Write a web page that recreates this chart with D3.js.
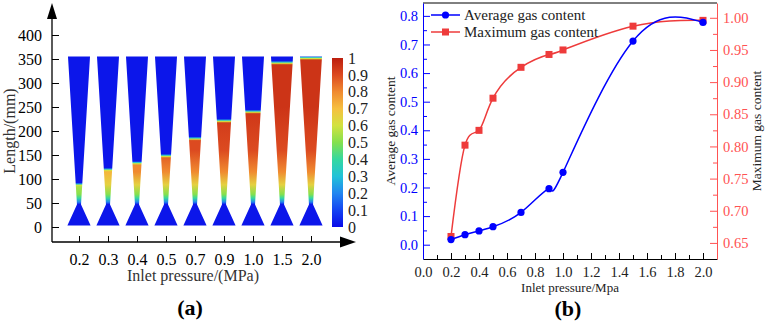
<!DOCTYPE html>
<html lang="en">
<head>
<meta charset="UTF-8">
<title>Gas content vs inlet pressure</title>
<script src="https://cdn.jsdelivr.net/npm/d3@7/dist/d3.min.js"></script>
<style>
  body { margin: 0; background: #fff; }
  svg text { font-family: "Liberation Serif", "Times New Roman", serif; }
</style>
</head>
<body>
<svg width="765" height="323"></svg>
<script>
// ---- panel (a) data: contour snapshots per inlet pressure
let pressureLabels = ['0.2', '0.3', '0.4', '0.5', '0.7', '0.9', '1.0', '1.5', '2.0'];
let interfaceLevel = [88, 119, 133, 148, 184, 221, 240, 342, 352];   // mm, top of gas column
let gasTop = [0.55, 0.72, 0.8, 0.86, 0.9, 0.93, 0.94, 0.96, 0.97];    // max fraction in column
let profileMm = [47, 52, 60, 68, 88, 115, 160, 250];                  // gas fraction vs height
let profileVal = [0.02, 0.2, 0.4, 0.5, 0.65, 0.8, 0.9, 0.95];
let lengthTicks = [0, 50, 100, 150, 200, 250, 300, 350, 400];
let cbTicks = [0, 0.1, 0.2, 0.3, 0.4, 0.5, 0.6, 0.7, 0.8, 0.9, 1];
let cbColors = ['#0a0ae8', '#1444f2', '#2286f0', '#22c2d8', '#34d8a0', '#84e04e',
                '#d2e240', '#f6c040', '#f08a30', '#dc4a20', '#bc1e0e'];

// ---- panel (b) data
let pressure = [0.2, 0.3, 0.4, 0.5, 0.7, 0.9, 1.0, 1.5, 2.0];
let avgGas = [0.018, 0.035, 0.048, 0.063, 0.113, 0.196, 0.253, 0.712, 0.777];
let maxGas = [0.660, 0.802, 0.825, 0.875, 0.923, 0.943, 0.950, 0.987, 0.996];
let xTicks = [0, 0.2, 0.4, 0.6, 0.8, 1.0, 1.2, 1.4, 1.6, 1.8, 2.0];
let avgTicks = [0, 0.1, 0.2, 0.3, 0.4, 0.5, 0.6, 0.7, 0.8];
let maxTicks = [0.65, 0.70, 0.75, 0.80, 0.85, 0.90, 0.95, 1.00];

let svg = d3.select('svg');
let defs = svg.append('defs');
let blue = '#0000ff', red = '#ee3b3b', redAxis = '#ff5252';

// ================= panel (a) =================
let ga = svg.append('g');
let xa = d3.scalePoint().domain(pressureLabels).range([79, 311]);
let ya = d3.scaleLinear().domain([0, 400]).range([227, 35]);
let cmap = d3.scaleLinear().domain(cbTicks).range(cbColors);
let prof = d3.scaleLinear().domain(profileMm).range(profileVal).clamp(true);
let step = xa.step();

// nozzle outline: [offset in steps, mm]
let outline = [[-0.4, 3], [-0.07, 47], [-0.38, 355], [0.38, 355], [0.07, 47], [0.4, 3]];

pressureLabels.forEach(function (p, i) {
    let lvl = interfaceLevel[i], top = gasTop[i];
    let stops = [[0, 0.02]];
    profileMm.forEach(function (m) {
        if (m < lvl - 4) stops.push([m, Math.min(prof(m), top)]);
    });
    stops.push([lvl - 4, Math.min(prof(lvl - 4), top)]);
    stops.push([lvl - 1, 0.6]);
    stops.push([lvl + 1.5, 0.3]);
    stops.push([lvl + 4, 0.02]);
    stops.push([400, 0.02]);

    let grad = defs.append('linearGradient')
        .attr('id', 'noz' + i)
        .attr('gradientUnits', 'userSpaceOnUse')
        .attr('x1', 0).attr('x2', 0)
        .attr('y1', ya(0)).attr('y2', ya(400));
    grad.selectAll('stop').data(stops).join('stop')
        .attr('offset', function (d) { return d[0] / 400; })
        .attr('stop-color', function (d) { return cmap(d[1]); });

    let line = d3.line()
        .x(function (d) { return xa(p) + d[0] * step; })
        .y(function (d) { return ya(d[1]); });
    ga.append('path')
        .attr('d', line(outline) + 'Z')
        .attr('fill', 'url(#noz' + i + ')');
});

// left axis with arrow
ga.append('g')
    .attr('transform', 'translate(52,0)')
    .call(d3.axisLeft(ya).tickValues(lengthTicks).tickSize(-7).tickPadding(10))
    .call(function (g) { g.select('.domain').remove(); })
    .call(function (g) { g.selectAll('text').style('font-size', '16px'); });
ga.append('line').attr('x1', 52).attr('x2', 52).attr('y1', 242).attr('y2', 16)
    .attr('stroke', '#000').attr('stroke-width', 1.3);
ga.append('path').attr('d', 'M47,19 L52,3 L57,19 Z').attr('fill', '#000');

// bottom axis with arrow
ga.append('g')
    .attr('transform', 'translate(0,242)')
    .call(d3.axisBottom(xa).tickSize(-6).tickPadding(12))
    .call(function (g) { g.select('.domain').remove(); })
    .call(function (g) { g.selectAll('text').style('font-size', '16px'); });
ga.append('line').attr('x1', 52).attr('x2', 342).attr('y1', 242).attr('y2', 242)
    .attr('stroke', '#000').attr('stroke-width', 1.3);
ga.append('path').attr('d', 'M340,236.5 L356,242 L340,247.5 Z').attr('fill', '#000');

ga.append('text').attr('x', 193).attr('y', 281).attr('text-anchor', 'middle')
    .style('font-size', '16px').style('fill', '#333').text('Inlet pressure/(MPa)');
ga.append('text').attr('transform', 'translate(15,131) rotate(-90)')
    .attr('text-anchor', 'middle').style('font-size', '16px').style('fill', '#333')
    .text('Length/(mm)');
ga.append('text').attr('x', 190).attr('y', 315).attr('text-anchor', 'middle')
    .style('font-size', '22px').style('font-weight', 'bold').text('(a)');

// colour bar
let cbY = d3.scaleLinear().domain([0, 1]).range([227, 58]);
let cbGrad = defs.append('linearGradient').attr('id', 'cbar')
    .attr('x1', 0).attr('x2', 0).attr('y1', 1).attr('y2', 0);
cbGrad.selectAll('stop').data(cbTicks).join('stop')
    .attr('offset', function (d) { return d; })
    .attr('stop-color', function (d) { return cmap(d); });
ga.append('rect').attr('x', 332).attr('width', 11)
    .attr('y', cbY(1)).attr('height', cbY(0) - cbY(1))
    .attr('fill', 'url(#cbar)');
ga.selectAll('.cbl').data(cbTicks).join('text')
    .attr('class', 'cbl')
    .attr('x', 348).attr('y', function (d) { return cbY(d); })
    .attr('dy', '0.35em').style('font-size', '16px').style('fill', '#222')
    .text(function (d) { return d === 0 || d === 1 ? d : d.toFixed(1); });

// ================= panel (b) =================
let gb = svg.append('g');
let xb = d3.scaleLinear().domain([0, 2.1]).range([423, 717]);
let yl = d3.scaleLinear().domain([-0.05, 0.845]).range([259, 3]);
let yr = d3.scaleLinear().domain([0.625, 1.023]).range([259, 3]);

// top frame
gb.append('line').attr('x1', 423).attr('x2', 717).attr('y1', 3).attr('y2', 3)
    .attr('stroke', '#000');

// minor ticks
gb.append('g').attr('transform', 'translate(0,259)')
    .call(d3.axisBottom(xb).tickValues(d3.range(1, 21, 2).map(function (d) { return d / 10; }))
        .tickSize(-4).tickFormat(''))
    .call(function (g) { g.select('.domain').remove(); });
gb.append('g').attr('transform', 'translate(423,0)')
    .call(d3.axisLeft(yl).tickValues(d3.range(1, 17, 2).map(function (d) { return d / 20; }))
        .tickSize(-4).tickFormat(''))
    .call(function (g) { g.select('.domain').remove(); g.selectAll('line').attr('stroke', blue); });
gb.append('g').attr('transform', 'translate(717,0)')
    .call(d3.axisRight(yr).tickValues(d3.range(27, 41, 2).map(function (d) { return d / 40; }))
        .tickSize(-4).tickFormat(''))
    .call(function (g) { g.select('.domain').remove(); g.selectAll('line').attr('stroke', redAxis); });

// major axes
gb.append('g').attr('transform', 'translate(0,259)')
    .call(d3.axisBottom(xb).tickValues(xTicks).tickSize(-6).tickSizeOuter(0)
        .tickPadding(8).tickFormat(d3.format('.1f')))
    .call(function (g) { g.selectAll('text').style('font-size', '14.5px').style('fill', '#222'); });
gb.append('g').attr('transform', 'translate(423,0)')
    .call(d3.axisLeft(yl).tickValues(avgTicks).tickSize(-7).tickSizeOuter(0)
        .tickPadding(5).tickFormat(d3.format('.1f')))
    .call(function (g) {
        g.select('.domain').attr('stroke', blue);
        g.selectAll('line').attr('stroke', blue);
        g.selectAll('text').style('font-size', '14.5px').style('fill', blue);
    });
gb.append('g').attr('transform', 'translate(717,0)')
    .call(d3.axisRight(yr).tickValues(maxTicks).tickSize(-7).tickSizeOuter(0)
        .tickPadding(6).tickFormat(d3.format('.2f')))
    .call(function (g) {
        g.select('.domain').attr('stroke', redAxis);
        g.selectAll('line').attr('stroke', redAxis);
        g.selectAll('text').style('font-size', '14.5px').style('fill', redAxis);
    });

// series
let maxLine = d3.line().curve(d3.curveNatural)
    .x(function (d, i) { return xb(pressure[i]); })
    .y(function (d) { return yr(d); });
let avgLine = d3.line().curve(d3.curveNatural)
    .x(function (d, i) { return xb(pressure[i]); })
    .y(function (d) { return yl(d); });

gb.append('path').datum(maxGas).attr('d', maxLine)
    .attr('fill', 'none').attr('stroke', red).attr('stroke-width', 1.5);
gb.selectAll('.sq').data(maxGas).join('rect').attr('class', 'sq')
    .attr('x', function (d, i) { return xb(pressure[i]) - 3.5; })
    .attr('y', function (d) { return yr(d) - 3.5; })
    .attr('width', 7).attr('height', 7).attr('fill', red);

gb.append('path').datum(avgGas).attr('d', avgLine)
    .attr('fill', 'none').attr('stroke', blue).attr('stroke-width', 1.5);
gb.selectAll('.dot').data(avgGas).join('circle').attr('class', 'dot')
    .attr('cx', function (d, i) { return xb(pressure[i]); })
    .attr('cy', function (d) { return yl(d); })
    .attr('r', 3.6).attr('fill', blue);

// legend
gb.append('line').attr('x1', 431).attr('x2', 460).attr('y1', 15).attr('y2', 15)
    .attr('stroke', blue).attr('stroke-width', 1.5);
gb.append('circle').attr('cx', 445.5).attr('cy', 15).attr('r', 3.6).attr('fill', blue);
gb.append('text').attr('x', 464).attr('y', 15).attr('dy', '0.35em')
    .style('font-size', '15px').style('fill', '#222').text('Average gas content');
gb.append('line').attr('x1', 431).attr('x2', 460).attr('y1', 32).attr('y2', 32)
    .attr('stroke', red).attr('stroke-width', 1.5);
gb.append('rect').attr('x', 442).attr('y', 28.5).attr('width', 7).attr('height', 7).attr('fill', red);
gb.append('text').attr('x', 464).attr('y', 32).attr('dy', '0.35em')
    .style('font-size', '15px').style('fill', '#222').text('Maximum gas content');

// titles
gb.append('text').attr('x', 570).attr('y', 292).attr('text-anchor', 'middle')
    .style('font-size', '13px').style('fill', '#222').text('Inlet pressure/Mpa');
gb.append('text').attr('transform', 'translate(395,131) rotate(-90)')
    .attr('text-anchor', 'middle').style('font-size', '13.5px').style('fill', '#222')
    .text('Average gas content');
gb.append('text').attr('transform', 'translate(761,131) rotate(-90)')
    .attr('text-anchor', 'middle').style('font-size', '13.5px').style('fill', '#222')
    .text('Maximum gas content');
gb.append('text').attr('x', 568).attr('y', 316).attr('text-anchor', 'middle')
    .style('font-size', '22px').style('font-weight', 'bold').text('(b)');
</script>
</body>
</html>
